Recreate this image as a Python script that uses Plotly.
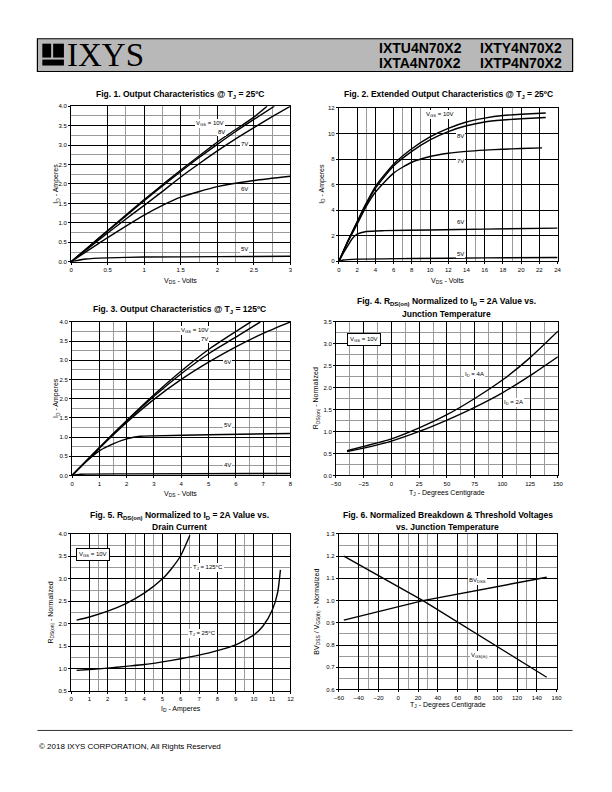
import plotly.graph_objects as go

W, H = 612, 792
FONT = "Arial, Liberation Sans, sans-serif"

# ---------------- data ----------------
# Fig 1: Output characteristics @ 25C (VDS volts, ID amps)
f1_x10 = [0, 0.25, 0.5, 0.75, 1, 1.25, 1.5, 1.75, 2, 2.25, 2.5, 2.68]
f1_y10 = [0, 0.4, 0.8, 1.2, 1.6, 1.98, 2.36, 2.72, 3.08, 3.4, 3.72, 4.0]
f1_x8 = [0, 0.25, 0.5, 0.75, 1, 1.25, 1.5, 1.75, 2, 2.25, 2.5, 2.78]
f1_y8 = [0, 0.4, 0.79, 1.18, 1.57, 1.95, 2.32, 2.68, 3.02, 3.35, 3.66, 4.0]
f1_x7 = [0, 0.25, 0.5, 0.75, 1, 1.25, 1.5, 1.75, 2, 2.25, 2.5, 2.75, 3.0]
f1_y7 = [0, 0.37, 0.74, 1.1, 1.45, 1.81, 2.18, 2.52, 2.85, 3.16, 3.45, 3.73, 4.0]
f1_x6 = [0, 0.5, 1, 1.25, 1.5, 2, 2.5, 3]
f1_y6 = [0, 0.62, 1.2, 1.45, 1.66, 1.93, 2.09, 2.2]
f1_x5 = [0, 0.2, 0.5, 1, 2, 3]
f1_y5 = [0, 0.07, 0.1, 0.12, 0.13, 0.14]

# Fig 2: Extended output characteristics @ 25C
f2_x10 = [0, 1, 2, 3, 4, 6, 8, 10, 12, 14, 16, 18, 20, 22.7]
f2_y10 = [0, 1.6, 3.1, 4.55, 5.85, 7.6, 8.8, 9.73, 10.4, 10.9, 11.2, 11.4, 11.5, 11.6]
f2_x8 = [0, 1, 2, 3, 4, 6, 8, 10, 12, 14, 16, 18, 20, 22.7]
f2_y8 = [0, 1.6, 3.05, 4.45, 5.7, 7.45, 8.6, 9.5, 10.15, 10.6, 10.9, 11.05, 11.15, 11.25]
f2_x7 = [0, 1, 2, 3, 4, 6, 8, 10, 12, 14, 16, 18, 20, 22.3]
f2_y7 = [0, 1.55, 2.9, 4.3, 5.4, 6.9, 7.75, 8.2, 8.45, 8.6, 8.7, 8.77, 8.82, 8.87]
f2_x6 = [0, 0.5, 1, 1.5, 2, 3, 5, 10, 16, 24]
f2_y6 = [0, 0.65, 1.25, 1.8, 2.12, 2.33, 2.4, 2.45, 2.52, 2.6]
f2_x5 = [0, 0.5, 2, 8, 16, 24]
f2_y5 = [0, 0.1, 0.17, 0.22, 0.27, 0.3]

# Fig 3: Output characteristics @ 125C
f3_x10 = [0, 1, 2, 3, 4, 5, 6, 6.55]
f3_y10 = [0, 0.73, 1.43, 2.1, 2.72, 3.28, 3.75, 4.0]
f3_x7 = [0, 1, 2, 3, 4, 5, 6, 6.9]
f3_y7 = [0, 0.72, 1.41, 2.06, 2.65, 3.17, 3.6, 4.0]
f3_x6 = [0, 1, 2, 3, 4, 5, 6, 7, 8]
f3_y6 = [0, 0.71, 1.38, 1.98, 2.5, 2.95, 3.35, 3.7, 4.0]
f3_x5 = [0, 0.5, 1, 1.5, 2, 2.5, 3, 5, 8]
f3_y5 = [0, 0.35, 0.64, 0.82, 0.95, 1.02, 1.03, 1.06, 1.09]
f3_x4 = [0, 0.3, 2, 8]
f3_y4 = [0, 0.03, 0.04, 0.05]

# Fig 4: RDS(on) normalized vs junction temperature
f4_t = [-40, -25, 0, 25, 50, 75, 100, 125, 150]
f4_id4 = [0.56, 0.66, 0.83, 1.08, 1.38, 1.75, 2.17, 2.68, 3.28]
f4_id2 = [0.54, 0.62, 0.78, 1.0, 1.26, 1.55, 1.88, 2.27, 2.7]

# Fig 5: RDS(on) normalized vs drain current
f5_i125 = [0.3, 1, 2, 3, 4, 5, 5.5, 6, 6.5]
f5_r125 = [2.08, 2.15, 2.28, 2.45, 2.68, 3.0, 3.23, 3.52, 3.97]
f5_i25 = [0.3, 1, 2, 3, 4, 5, 6, 7, 8, 9, 10, 10.5, 11, 11.3, 11.45]
f5_r25 = [0.96, 0.98, 1.01, 1.05, 1.09, 1.15, 1.22, 1.3, 1.4, 1.53, 1.75, 1.95, 2.3, 2.7, 3.2]

# Fig 6: normalized breakdown & threshold voltages
f6_t = [-55, 25, 150]
f6_bv = [0.912, 1.0, 1.105]
f6_vth = [1.2, 1.0, 0.655]

# ---------------- layout helpers ----------------
def px2x(p):
    return p / W

def px2y(p):
    return 1 - p / H

# plot areas in page pixels: (left, right, top, bottom)
AREAS = {
    1: (67.3, 290.7, 104.0, 260.7),
    2: (340.0, 562.7, 105.7, 260.3),
    3: (68.3, 290.7, 321.3, 476.0),
    4: (337.0, 563.0, 321.0, 476.0),
    5: (67.3, 290.7, 535.0, 693.3),
    6: (340.0, 561.7, 535.0, 691.7),
}

fig = go.Figure()
layout = dict(
    width=W, height=H, margin=dict(l=0, r=0, t=0, b=0), autosize=False,
    paper_bgcolor="white", plot_bgcolor="white", showlegend=False,
    font=dict(family=FONT, color="black"),
)

def axes(n, xr, xdtick, xminor, yr, ydtick, yminor, xfmt=None, yfmt=None, xtick0=None, ytick0=None):
    l, r, t, b = AREAS[n]
    sfx = "" if n == 1 else str(n)
    common = dict(showgrid=True, gridcolor="black", gridwidth=1, zeroline=False,
                  showline=True, linecolor="black", linewidth=1, mirror=True,
                  ticks="outside", ticklen=2, tickcolor="black",
                  tickfont=dict(size=6, family=FONT))
    layout["xaxis" + sfx] = dict(common, domain=[px2x(l), px2x(r)], range=xr, dtick=xdtick,
                                 tick0=xtick0 if xtick0 is not None else xr[0],
                                 anchor="y" + sfx,
                                 minor=dict(tickmode="array", tickvals=xminor, showgrid=True,
                                            gridcolor="#9a9a9a", gridwidth=1, ticks=""),
                                 **({"tickformat": xfmt} if xfmt else {}))
    layout["yaxis" + sfx] = dict(common, domain=[px2y(b), px2y(t)], range=yr, dtick=ydtick,
                                 tick0=ytick0 if ytick0 is not None else yr[0],
                                 anchor="x" + sfx,
                                 minor=dict(tickmode="array", tickvals=yminor, showgrid=True,
                                            gridcolor="#9a9a9a", gridwidth=1, ticks=""),
                                 **({"tickformat": yfmt} if yfmt else {}))

quarters4 = [0.25, 0.75, 1.25, 1.75, 2.25, 2.75, 3.25, 3.75]
axes(1, [0, 3], 0.5, [0.75, 1.25, 1.75, 2.25, 2.75], [0, 4], 0.5, quarters4, yfmt=".1f")
axes(2, [0, 24], 2, [3, 7, 9, 15, 19], [0, 12], 2, [])
axes(3, [0, 8], 1, [1.5, 6.5, 7.5], [0, 4], 0.5, quarters4, yfmt=".1f")
axes(4, [-50, 150], 25, [-37.5, -12.5, 12.5, 37.5, 62.5, 87.5, 112.5, 137.5],
     [0, 3.5], 0.5, [0.25, 0.75, 1.25, 1.75, 2.25, 2.75, 3.25], yfmt=".1f")
axes(5, [0, 12], 1, [1.5, 3.5, 4.5, 6.5, 9.5], [0.5, 4], 0.5,
     [0.75, 1.25, 1.75, 2.25, 2.75, 3.25, 3.75], yfmt=".1f")
axes(6, [-60, 160], 20, [-30, 10, 30, 70, 130], [0.6, 1.3], 0.1,
     [0.65, 0.75, 0.85, 1.15, 1.25], yfmt=".1f")

def line(n, x, y, spline=True):
    sfx = "" if n == 1 else str(n)
    ln = dict(color="black", width=1.4)
    if spline:
        ln.update(shape="spline", smoothing=0.6)
    fig.add_trace(go.Scatter(x=x, y=y, mode="lines", line=ln,
                             xaxis="x" + sfx, yaxis="y" + sfx, hoverinfo="skip"))

line(1, f1_x10, f1_y10); line(1, f1_x8, f1_y8); line(1, f1_x7, f1_y7)
line(1, f1_x6, f1_y6); line(1, f1_x5, f1_y5)
line(2, f2_x10, f2_y10); line(2, f2_x8, f2_y8); line(2, f2_x7, f2_y7)
line(2, f2_x6, f2_y6); line(2, f2_x5, f2_y5)
line(3, f3_x10, f3_y10); line(3, f3_x7, f3_y7); line(3, f3_x6, f3_y6)
line(3, f3_x5, f3_y5); line(3, f3_x4, f3_y4)
line(4, f4_t, f4_id4); line(4, f4_t, f4_id2)
line(5, f5_i125, f5_r125); line(5, f5_i25, f5_r25)
line(6, f6_t, f6_bv, spline=False); line(6, f6_t, f6_vth, spline=False)

ann = []

def lab(n, x, y, text, border=False, size=6):
    sfx = "" if n == 1 else str(n)
    ann.append(dict(xref="x" + sfx, yref="y" + sfx, x=x, y=y, text=text, showarrow=False,
                    font=dict(size=size, family=FONT), bgcolor="white",
                    bordercolor="black" if border else "rgba(0,0,0,0)",
                    borderwidth=1 if border else 0, borderpad=2 if border else 1))

# in-plot labels
lab(1, 1.9, 3.55, "V<sub>GS</sub> = 10V"); lab(1, 2.05, 3.33, "8V"); lab(1, 2.37, 3.03, "7V")
lab(1, 2.37, 1.86, "6V"); lab(1, 2.37, 0.34, "5V")
lab(2, 11.1, 11.5, "V<sub>GS</sub> = 10V"); lab(2, 13.3, 9.8, "8V"); lab(2, 13.3, 7.85, "7V")
lab(2, 13.3, 3.05, "6V"); lab(2, 13.3, 0.6, "5V")
lab(3, 4.5, 3.78, "V<sub>GS</sub> = 10V"); lab(3, 4.85, 3.56, "7V"); lab(3, 5.7, 2.95, "6V")
lab(3, 5.7, 1.3, "5V"); lab(3, 5.7, 0.28, "4V")
lab(4, -25, 3.1, "V<sub>GS</sub> = 10V", border=True)
lab(4, 75, 2.3, "I<sub>D</sub> = 4A"); lab(4, 110, 1.65, "I<sub>D</sub> = 2A")
lab(5, 1.2, 3.55, "V<sub>GS</sub> = 10V", border=True)
lab(5, 7.5, 3.25, "T<sub>J</sub> = 125°C"); lab(5, 7.2, 1.78, "T<sub>J</sub> = 25°C")
lab(6, 80, 1.09, "BV<sub>DSS</sub>"); lab(6, 82, 0.755, "V<sub>GS(th)</sub>")

def ptext(x, y, text, size=7, bold=False, xanchor="center", angle=0):
    ann.append(dict(xref="paper", yref="paper", x=px2x(x), y=px2y(y), text=("<b>%s</b>" % text) if bold else text,
                    showarrow=False, xanchor=xanchor, yanchor="middle", textangle=angle,
                    font=dict(size=size, family=FONT, color="black")))

# figure titles
ptext(178, 92, "Fig. 1. Output Characteristics @ T<sub>J</sub> = 25ºC", 8.5, True)
ptext(452, 92, "Fig. 2. Extended Output Characteristics @ T<sub>J</sub> = 25ºC", 8.5, True)
ptext(178, 309, "Fig. 3. Output Characteristics @ T<sub>J</sub> = 125ºC", 8.5, True)
ptext(450, 301, "Fig. 4. R<sub>DS(on)</sub> Normalized to I<sub>D</sub> = 2A Value vs.", 8.5, True)
ptext(450, 313, "Junction Temperature", 8.5, True)
ptext(178, 516, "Fig. 5. R<sub>DS(on)</sub> Normalized to I<sub>D</sub> = 2A Value vs.", 8.5, True)
ptext(178, 528, "Drain Current", 8.5, True)
ptext(451, 516, "Fig. 6. Normalized Breakdown & Threshold Voltages", 8.5, True)
ptext(451, 528, "vs. Junction Temperature", 8.5, True)

# axis titles
ptext(179, 280, "V<sub>DS</sub> - Volts", 7)
ptext(451, 280, "V<sub>DS</sub> - Volts", 7)
ptext(179, 495, "V<sub>DS</sub> - Volts", 7)
ptext(450, 494, "T<sub>J</sub> - Degrees Centigrade", 7)
ptext(179, 711, "I<sub>D</sub> - Amperes", 7)
ptext(451, 707, "T<sub>J</sub> - Degrees Centigrade", 7)
ptext(52, 182, "I<sub>D</sub> - Amperes", 7, angle=-90)
ptext(322, 182, "I<sub>D</sub> - Amperes", 7, angle=-90)
ptext(52, 398, "I<sub>D</sub> - Amperes", 7, angle=-90)
ptext(317, 398, "R<sub>DS(on)</sub> - Normalized", 7, angle=-90)
ptext(47, 614, "R<sub>DS(on)</sub> - Normalized", 7, angle=-90)
ptext(318, 613, "BV<sub>DSS</sub> / V<sub>GS(th)</sub> - Normalized", 7, angle=-90)

# header part numbers and logo text
ptext(423, 45, "IXTU4N70X2", 14, True)
ptext(525, 45, "IXTY4N70X2", 14, True)
ptext(423, 60, "IXTA4N70X2", 14, True)
ptext(525, 60, "IXTP4N70X2", 14, True)
ann.append(dict(xref="paper", yref="paper", x=px2x(61), y=px2y(52), text="IXYS", showarrow=False,
                xanchor="left", yanchor="middle",
                font=dict(size=33, family="Liberation Serif, DejaVu Serif, serif", color="black")))
# footer
ptext(33, 749, "© 2018 IXYS CORPORATION, All Rights Reserved", 8, False, xanchor="left")

layout["annotations"] = ann

shapes = [
    dict(type="rect", xref="paper", yref="paper", x0=px2x(33), x1=px2x(578), y0=px2y(69), y1=px2y(36),
         fillcolor="#b8b8b8", line=dict(color="black", width=1.2), layer="below"),
    # logo blocks
    dict(type="rect", xref="paper", yref="paper", x0=px2x(38), x1=px2x(47), y0=px2y(55), y1=px2y(41),
         fillcolor="black", line=dict(width=0)),
    dict(type="rect", xref="paper", yref="paper", x0=px2x(49), x1=px2x(60), y0=px2y(55), y1=px2y(41),
         fillcolor="black", line=dict(width=0)),
    dict(type="rect", xref="paper", yref="paper", x0=px2x(38), x1=px2x(60), y0=px2y(63), y1=px2y(57),
         fillcolor="black", line=dict(width=0)),
    dict(type="line", xref="paper", yref="paper", x0=px2x(33), x1=px2x(578), y0=px2y(733), y1=px2y(733),
         line=dict(color="#333", width=1)),
]
layout["shapes"] = shapes

fig.update_layout(**layout)
fig.write_html("out.html", config={"responsive": False, "displayModeBar": False},
               post_script="document.body.style.margin='0';document.body.style.overflow='hidden';")
